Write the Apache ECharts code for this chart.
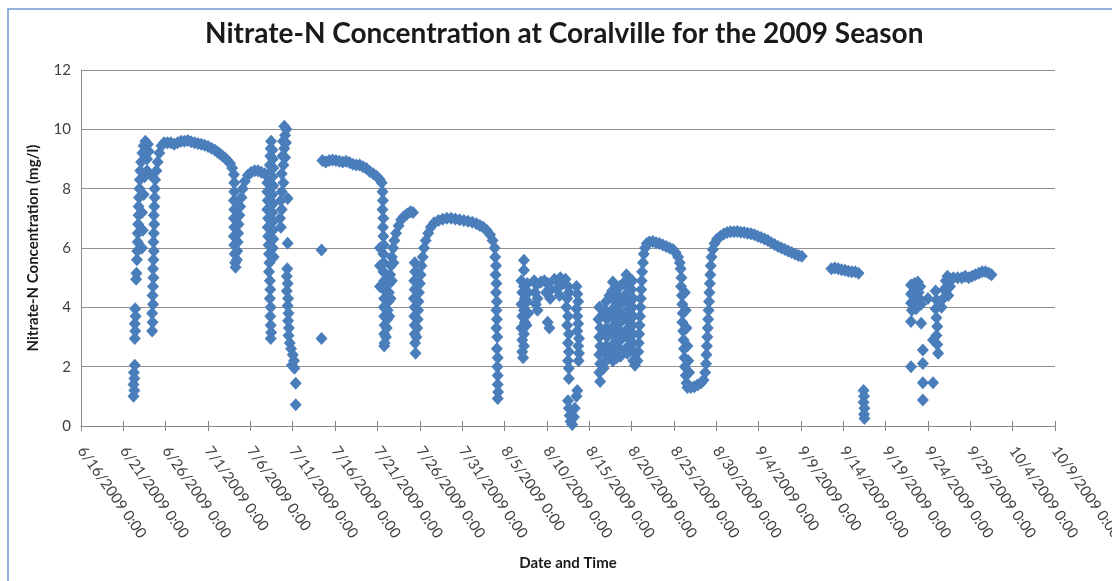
<!DOCTYPE html>
<html>
<head>
<meta charset="utf-8">
<script src="https://cdn.jsdelivr.net/npm/echarts@6/dist/echarts.min.js"></script>
<style>
html,body{margin:0;padding:0;background:#fff;}
#chart{width:1112px;height:581px;}
</style>
</head>
<body>
<div id="chart"></div>
<script>
// x values are days since 6/16/2009 0:00, y values are Nitrate-N in mg/l
const seasonStart = [2009, 5, 16];
const xTickStepDays = 5;
const xMaxDays = 115;
const yTicks = [0, 2, 4, 6, 8, 10, 12];

const juneRise = [
[6.2,1.0],[6.3,1.2],[6.2,1.4],[6.3,1.6],[6.25,1.8],[6.35,2.05],
[6.35,2.95],[6.4,3.2],[6.35,3.45],[6.45,3.7],[6.4,3.95],
[6.5,4.95],[6.55,5.15],
[6.6,5.6],[6.65,5.9],[6.7,6.2],[6.7,6.5],[6.75,6.8],[6.8,7.1],[6.8,7.4],[6.85,7.7],[6.9,8.0],[6.95,8.3],[7.0,8.6],[7.1,8.9],[7.25,9.2],[7.4,9.45],[7.6,9.6],[7.9,9.5],[8.0,9.25],[7.8,9.0],
[7.2,6.0],[7.3,6.6],[7.2,7.2],[7.4,7.8],[7.5,8.4],[7.8,8.6],[8.1,8.5],
[8.4,3.2],[8.45,3.5],[8.4,3.8],[8.5,4.1],[8.45,4.4],[8.5,4.7],[8.55,5.0],[8.5,5.3],[8.55,5.6],[8.6,5.9],[8.55,6.2],[8.6,6.5],[8.65,6.8],[8.6,7.1],[8.65,7.4],[8.7,7.7],[8.7,8.0],[8.75,8.3],
[8.9,8.6],[9.05,8.9],[9.25,9.2],[9.5,9.45],[9.8,9.55]
];

const junePlateau = [
[10.2,9.55],[10.6,9.55],[11.0,9.5],[11.4,9.55],[11.8,9.6],[12.2,9.6],[12.6,9.62],[13.0,9.58],[13.4,9.55],[13.8,9.52],[14.2,9.5],[14.6,9.46],[15.0,9.42],[15.4,9.36],[15.8,9.3],[16.1,9.24],[16.4,9.18],[16.7,9.1],[17.0,9.03],[17.3,8.95],[17.6,8.85],[17.85,8.7],[18.05,8.48]
];

const earlyJulyDip = [
[18.1,8.2],[18.1,7.9],[18.05,7.6],[18.1,7.3],[18.05,7.0],[18.1,6.7],[18.05,6.4],[18.1,6.1],[18.15,5.8],[18.2,5.5],[18.25,5.35],
[18.4,5.6],[18.45,5.9],[18.5,6.2],[18.55,6.5],[18.6,6.8],[18.7,7.1],[18.8,7.4],[18.95,7.7],[19.1,8.0],[19.35,8.25],[19.7,8.45],[20.1,8.55],[20.5,8.6],[20.9,8.6],[21.3,8.55],[21.7,8.5]
];

const earlyJulyColumns = [
[22.0,8.2],[22.0,7.9],[22.05,7.6],[22.0,7.3],[22.1,7.0],[22.05,6.7],[22.1,6.4],[22.15,6.1],[22.2,5.8],[22.25,5.5],[22.2,5.2],[22.3,4.9],[22.35,4.6],[22.3,4.3],[22.4,4.0],[22.35,3.7],[22.4,3.4],[22.45,3.15],[22.4,2.95],
[22.2,8.5],[22.3,8.8],[22.35,9.1],[22.4,9.35],[22.45,9.6],[22.6,9.3],[22.65,9.0],[22.7,8.7],[22.6,8.4],[22.7,8.1],[22.6,7.8],[22.7,7.5],[22.6,7.2],[22.7,6.9],[22.65,6.6],[22.7,6.3],[22.65,6.0],[22.75,5.7],
[24.0,10.1],[24.25,10.0],[24.1,9.8],[23.85,9.6],[24.2,9.55],[24.0,9.35],[23.8,9.1],[24.1,9.05],[23.9,8.8],[23.7,8.5],[23.9,8.2],[23.7,7.9],[23.6,7.6],[23.7,7.3],[23.5,7.0],[23.6,6.7],[24.4,7.67],[24.4,6.16],
[24.35,5.3],[24.3,5.05],[24.4,4.8],[24.3,4.55],[24.45,4.3],[24.4,4.05],[24.5,3.8],[24.45,3.55],[24.55,3.3],[24.5,3.05],[24.65,2.8],[24.8,2.6],[25.0,2.4],[25.15,2.2],[24.9,2.05],[25.2,1.95],[25.35,1.44],[25.35,0.72]
];

const midJulyPlateau = [
[28.4,5.93],[28.4,2.95],
[28.5,8.95],[28.9,8.9],[29.3,8.95],[29.7,8.97],[30.1,8.95],[30.5,8.92],[30.9,8.9],[31.3,8.92],[31.7,8.88],[32.1,8.82],[32.5,8.8],[32.9,8.8],[33.3,8.74],[33.7,8.68],[34.1,8.58],[34.5,8.5],[34.9,8.42],[35.25,8.32],[35.5,8.2],
[35.6,7.9],[35.65,7.6],[35.6,7.3],[35.7,7.0],[35.65,6.7],[35.7,6.4],[35.3,6.0],[35.75,6.1],[35.7,5.8],[35.3,5.4],[35.75,5.5],[35.7,5.2],[35.3,4.7],[35.8,4.9],[35.75,4.6],[35.8,4.3],[35.75,4.0],[35.8,3.7],[35.85,3.4],[35.8,3.1],[35.85,2.8],[35.8,2.7]
];

const lateJulyHumps = [
[36.0,3.0],[36.1,3.3],[36.15,3.6],[36.2,3.9],[36.3,4.2],[36.35,4.5],[36.4,4.8],[36.5,5.1],[36.6,5.4],[36.7,5.7],[36.85,6.0],[37.0,6.25],[37.2,6.5],[37.5,6.75],[37.8,6.95],[38.1,7.05],[38.5,7.15],[38.9,7.22],[39.2,7.2],
[36.4,3.7],[36.55,4.3],[36.7,4.9],[36.9,5.5],
[39.4,5.5],[39.45,5.2],[39.35,4.9],[39.4,4.6],[39.3,4.3],[39.4,4.0],[39.35,3.7],[39.4,3.4],[39.4,3.1],[39.45,2.8],[39.5,2.45],
[39.6,3.0],[39.7,3.3],[39.75,3.6],[39.8,3.9],[39.85,4.2],[39.9,4.5],[40.0,4.8],[40.1,5.1],[40.2,5.4],[40.35,5.7],[40.5,6.0],[40.7,6.25],[41.0,6.5],[41.3,6.7],[41.7,6.85],[42.2,6.93],[42.7,6.97],[43.2,7.0],[43.7,7.0],[44.2,6.98],[44.7,6.95],[45.2,6.93],[45.7,6.9],[46.2,6.87],[46.7,6.82],[47.1,6.76],[47.5,6.7],[47.9,6.6],[48.3,6.45],[48.6,6.25],[48.85,6.0],
[48.9,5.7],[49.0,5.4],[48.95,5.1],[49.05,4.8],[49.0,4.5],[49.1,4.2],[49.05,3.9],[49.1,3.6],[49.05,3.3],[49.15,3.0],[49.1,2.6],[49.2,2.3],[49.15,2.0],[49.2,1.7],[49.2,1.4],[49.25,1.15],[49.2,0.93]
];

const earlyAugust = [
[52.3,5.59],[52.3,5.25],
[52.0,4.9],[52.3,4.7],[52.1,4.5],[52.4,4.3],[52.0,4.1],[52.3,3.9],[52.1,3.7],[52.4,3.5],[52.0,3.3],[52.3,3.1],[52.1,2.9],[52.3,2.7],[52.1,2.5],[52.2,2.3],[52.7,4.8],[52.8,4.5],[52.7,4.2],[52.8,3.8],[52.6,3.4],
[53.5,4.9],[53.8,4.75],[53.6,4.5],[53.9,4.3],[53.7,4.1],[53.9,3.9],[54.3,4.85],[54.7,4.9],[55.1,4.8],[54.9,4.5],[55.1,3.5],[55.3,3.3],[55.5,4.6],[55.4,4.3],[55.9,4.95],[56.3,4.9],[56.6,5.0],[56.2,4.6],[56.5,4.4],[56.9,4.8],[57.2,4.95],[57.5,4.7],[57.6,4.5]
];

const midAugust = [
[57.4,4.3],[57.3,4.0],[57.5,3.7],[57.4,3.4],[57.6,3.1],[57.5,2.8],[57.6,2.5],[57.5,2.2],[57.6,1.95],[57.6,1.6],[57.5,0.85],[57.6,0.6],[57.7,0.35],[57.8,0.15],[58.0,0.05],[58.2,0.3],[58.3,0.6],[58.5,1.0],[58.6,1.2],
[58.5,4.7],[58.6,4.45],[58.7,4.2],[58.5,3.95],[58.6,3.7],[58.7,3.45],[58.6,3.2],[58.8,2.95],[58.7,2.7],[58.8,2.45],[58.75,2.2],
[61.2,4.0],[61.1,3.6],[61.3,3.3],[61.2,3.0],[61.3,2.7],[61.2,2.4],[61.3,2.1],[61.2,1.8],[61.3,1.5],
[61.6,3.75],[61.7,3.15],[61.6,2.55],[61.7,1.95],
[62.0,4.2],[61.9,3.9],[62.1,3.6],[62.0,3.3],[62.1,3.0],[62.0,2.7],[62.1,2.4],[62.0,2.2],
[62.4,4.4],[62.4,3.8],[62.5,3.2],[62.4,2.6],
[62.8,4.85],[62.7,4.55],[62.9,4.25],[62.8,3.95],[62.9,3.65],[62.8,3.35],[62.9,3.05],[62.8,2.75],[62.9,2.45],[62.8,2.2],
[63.2,4.6],[63.2,4.0],[63.3,3.4],[63.2,2.8],[63.25,2.3],
[63.6,4.7],[63.5,4.4],[63.7,4.1],[63.6,3.8],[63.7,3.5],[63.6,3.2],[63.7,2.9],[63.6,2.6],[63.7,2.35],
[64.0,4.8],[64.0,4.25],[64.1,3.65],[64.0,3.05],[64.1,2.5],
[64.4,5.1],[64.3,4.8],[64.5,4.5],[64.4,4.2],[64.5,3.9],[64.4,3.6],[64.6,3.3],[64.5,3.0],[64.6,2.7],[64.5,2.45],
[64.8,4.95],[64.8,4.35],[64.9,3.75],[64.8,3.15],[64.9,2.55],
[65.1,4.9],[65.0,4.6],[65.2,4.3],[65.1,4.0],[65.2,3.7],[65.1,3.4],[65.2,3.1],[65.1,2.8],[65.3,2.5],[65.2,2.2],[65.4,2.05]
];

const lateAugust = [
[65.7,2.2],[65.8,2.5],[65.85,2.8],[65.9,3.1],[65.95,3.4],[66.0,3.7],[66.05,4.0],[66.1,4.3],[66.15,4.6],[66.2,4.9],[66.25,5.2],[66.35,5.5],[66.45,5.8],[66.6,6.0],[66.8,6.15],[67.1,6.2],[67.5,6.22],[67.9,6.18],[68.3,6.15],[68.7,6.1],[69.1,6.05],[69.5,6.0],[69.9,5.95],[70.2,5.85],[70.5,5.7],[70.7,5.5],
[70.8,5.3],[70.9,5.0],[70.85,4.7],[70.95,4.4],[71.0,4.1],[71.05,3.8],[71.0,3.5],[71.1,3.2],[71.15,2.9],[71.2,2.6],[71.25,2.3],[71.3,2.0],[71.4,1.7],[71.5,1.45],[71.6,1.3],
[71.3,4.5],[71.4,3.9],[71.5,3.3],[71.6,2.7],[71.7,2.2],[71.8,1.8],
[72.0,1.3],[72.4,1.32],[72.8,1.38],[73.2,1.45],[73.5,1.55],
[73.7,1.8],[73.8,2.1],[73.85,2.4],[73.9,2.7],[73.95,3.0],[74.0,3.3],[74.05,3.6],[74.1,3.9],[74.15,4.2],[74.2,4.5],[74.25,4.8],[74.3,5.1],[74.35,5.4],[74.45,5.7],[74.6,5.95],[74.8,6.15],[75.1,6.3],[75.5,6.4],[75.9,6.47],[76.3,6.52],[76.7,6.55],[77.1,6.55],[77.5,6.56],[77.9,6.53],[78.3,6.52],[78.7,6.5],[79.1,6.48],[79.5,6.45],[79.9,6.4],[80.3,6.35],[80.7,6.3],[81.1,6.25],[81.5,6.18],[81.9,6.12],[82.3,6.05],[82.7,6.0],[83.1,5.95],[83.5,5.9],[83.9,5.85],[84.3,5.8],[84.7,5.75],[85.1,5.72]
];

const september = [
[88.6,5.3],[89.0,5.33],[89.4,5.3],[89.8,5.27],[90.2,5.25],[90.6,5.22],[91.0,5.2],[91.4,5.2],[91.8,5.15],
[92.4,1.2],[92.45,1.0],[92.4,0.8],[92.5,0.6],[92.45,0.4],[92.5,0.25],
[98.0,4.75],[98.4,4.8],[98.8,4.85],[99.1,4.7],[98.0,4.45],[98.4,4.5],[98.9,4.5],[98.0,4.15],[98.5,4.2],[99.0,4.3],[98.1,3.9],[98.6,3.95],[99.2,4.1],
[98.0,3.52],[99.2,3.46],[99.4,2.56],[98.0,2.0],[99.4,2.11],[99.4,1.46],[100.6,1.46],[99.4,0.88],[100.0,4.3],
[100.9,4.55],[101.0,4.25],[100.9,3.95],[101.0,3.65],[101.1,3.35],[101.0,3.05],[101.1,2.75],[101.2,2.45],[100.6,2.9],
[101.6,4.0],[101.8,4.3],[101.9,4.6],[102.1,4.9],[102.3,5.05],[102.6,4.7],[102.4,4.4],[102.7,4.95],[103.0,5.0],[103.5,5.0],
[104.0,5.0],[104.4,5.05],[104.8,5.0],[105.2,5.05],[105.6,5.1],[106.0,5.15],[106.4,5.2],[106.8,5.2],[107.2,5.15],[107.5,5.1]
];

const allPoints = [].concat(juneRise, junePlateau, earlyJulyDip, earlyJulyColumns, midJulyPlateau, lateJulyHumps, earlyAugust, midAugust, lateAugust, september);

function dayLabel(v) {
  const d = new Date(seasonStart[0], seasonStart[1], seasonStart[2] + Math.round(v));
  return (d.getMonth() + 1) + '/' + d.getDate() + '/' + d.getFullYear() + ' 0:00';
}

const FONT = 'Lato';
const chart = echarts.init(document.getElementById('chart'), null, {renderer: 'canvas'});
chart.setOption({
  animation: false,
  backgroundColor: '#ffffff',
  graphic: [{
    type: 'rect', z: -1,
    shape: {x: 8, y: 9, width: 1200, height: 700},
    style: {fill: 'none', stroke: '#6f99cf', lineWidth: 1.5}
  }],
  title: {
    text: 'Nitrate-N Concentration at Coralville for the 2009 Season',
    left: 200, top: 15,
    textStyle: {fontFamily: FONT, fontWeight: 'bold', fontSize: 28, color: '#1a1a1a'}
  },
  grid: {left: 81, top: 70, width: 974, height: 356, containLabel: false, outerBoundsMode: 'none'},
  xAxis: [{
    type: 'value', min: 0, max: xMaxDays, interval: xTickStepDays,
    name: 'Date and Time', nameLocation: 'middle', nameGap: 130,
    nameTextStyle: {fontFamily: FONT, fontWeight: 'bold', fontSize: 15, color: '#1a1a1a'},
    axisLine: {show: true, lineStyle: {color: '#888888', width: 1}},
    axisTick: {show: true, length: 5, lineStyle: {color: '#888888'}},
    axisLabel: {rotate: -55, margin: 22, fontFamily: FONT, fontSize: 15, color: '#404040', formatter: dayLabel, showMaxLabel: true, showMinLabel: true},
    splitLine: {show: false}
  }, {
    type: 'value', min: 0, max: xMaxDays, interval: xTickStepDays, position: 'bottom',
    axisLine: {show: false},
    axisTick: {show: true, inside: true, length: 5, lineStyle: {color: '#888888'}},
    axisLabel: {show: false},
    splitLine: {show: false}
  }],
  yAxis: {
    type: 'value', min: yTicks[0], max: yTicks[yTicks.length - 1], interval: yTicks[1] - yTicks[0],
    name: 'Nitrate-N Concentration (mg/l)', nameLocation: 'middle', nameGap: 40,
    nameTextStyle: {fontFamily: FONT, fontWeight: 'bold', fontSize: 15, color: '#1a1a1a'},
    axisLine: {show: true, lineStyle: {color: '#888888', width: 1}},
    axisTick: {show: false},
    axisLabel: {fontFamily: FONT, fontSize: 15, color: '#404040', margin: 10},
    splitLine: {show: true, lineStyle: {color: '#8f8f8f', width: 1}}
  },
  series: [{
    type: 'scatter',
    xAxisIndex: 0,
    symbol: 'diamond',
    symbolSize: [12, 13],
    itemStyle: {color: '#4a7ebb', opacity: 1},
    data: allPoints
  }]
});
</script>
</body>
</html>
